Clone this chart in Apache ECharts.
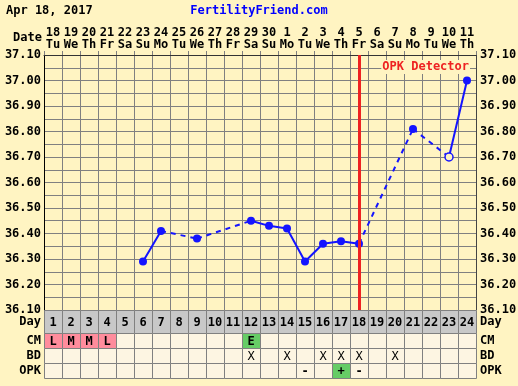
<!DOCTYPE html>
<html><head><meta charset="utf-8">
<script src="https://cdn.jsdelivr.net/npm/echarts@6/dist/echarts.min.js"></script>
<style>html,body{margin:0;padding:0;background:#FFF4C2}#c{width:518px;height:386px}</style>
</head><body><div id="c"></div>
<script>
// ---- data ----
const dates = ['18','19','20','21','22','23','24','25','26','27','28','29','30','1','2','3','4','5','6','7','8','9','10','11'];
const weekdays = ['Tu','We','Th','Fr','Sa','Su','Mo','Tu','We','Th','Fr','Sa','Su','Mo','Tu','We','Th','Fr','Sa','Su','Mo','Tu','We','Th'];
const cycleDays = ['1','2','3','4','5','6','7','8','9','10','11','12','13','14','15','16','17','18','19','20','21','22','23','24'];
const temps = [null,null,null,null,null,36.29,36.41,null,36.38,null,null,36.45,36.43,36.42,36.29,36.36,36.37,36.36,null,null,36.81,null,36.70,37.00];
const openCircleDays = ['23'];
const cmValues  = ['L','M','M','L','','','','','','','','E','','','','','','','','','','','',''];
const bdValues  = ['','','','','','','','','','','','X','','X','','X','X','X','','X','','','',''];
const opkValues = ['','','','','','','','','','','','','','','-','','+','-','','','','','',''];
const tableRows = ['CM','BD','OPK'];
const opkDetectorDay = '18';
const titleText = 'Apr 18, 2017';
const siteText = 'FertilityFriend.com';

// ---- styles ----
const BG = '#FFF4C2', CELL = '#FDF5E2', DAYCELL = '#C8C8C8', PINK = '#FF8C9C', GREEN = '#66CC66';
const BLUE = '#1414FF', RED = '#EE2222', GRID = '#808080';
const FONT = '"DejaVu Sans Mono", monospace';
const cellFill = {'L':PINK,'M':PINK,'H':PINK,'E':GREEN,'+':GREEN};

const L = 44, W = 432;
const chart = echarts.init(document.getElementById('c'), null, {renderer:'canvas'});

// line data
const lineData = temps.map((t, i) => {
  if (t === null) return null;
  if (openCircleDays.includes(cycleDays[i])) {
    return {value: t, itemStyle: {color: BG, borderColor: BLUE, borderWidth: 1.5}};
  }
  return t;
});
// dashed segments across gaps
const gapSeries = [];
let prev = -1;
temps.forEach((t, i) => {
  if (t === null) return;
  if (prev >= 0 && i - prev > 1) {
    const d = temps.map(() => null);
    d[prev] = temps[prev]; d[i] = t;
    gapSeries.push({
      type: 'line', xAxisIndex: 0, yAxisIndex: 0, data: d, connectNulls: true,
      symbol: 'none', z: 2, silent: true,
      lineStyle: {color: BLUE, width: 2, type: [5, 5]}
    });
  }
  prev = i;
});

const dayCells = cycleDays.map((d, i) => ({x: i, y: 0, text: d, fill: DAYCELL, bold: true}));
const lowCells = [];
[cmValues, bdValues, opkValues].forEach((arr, r) => {
  arr.forEach((v, i) => {
    lowCells.push({x: i, y: r, text: v, fill: (r !== 1 && cellFill[v]) || CELL, bold: r !== 1});
  });
});

function makeRender(cells) {
  return function (params, api) {
    const c = cells[params.dataIndex];
    const p = api.coord([api.value(0), api.value(1)]);
    const s = api.size([1, 1]);
    const x0 = Math.round(p[0] - s[0] / 2) + 0.5, y0 = Math.round(p[1] - s[1] / 2) + 0.5;
    return {type: 'group', children: [
      {type: 'rect', shape: {x: x0, y: y0, width: Math.round(s[0]), height: Math.round(s[1])},
       style: {fill: c.fill, stroke: GRID, lineWidth: 1}},
      {type: 'text', style: {text: c.text, x: p[0], y: p[1] + 1, align: 'center', verticalAlign: 'middle',
        font: (c.bold ? 'bold ' : '') + '12px ' + FONT, fill: '#000'}}
    ]};
  };
}

const catLabel = {fontFamily: FONT, fontWeight: 'bold', fontSize: 12, color: '#000'};

const option = {
  animation: false,
  backgroundColor: BG,
  title: [
    {text: titleText, left: 1, top: 0, textStyle: {fontFamily: FONT, fontWeight: 'bold', fontSize: 12, color: '#000'}},
    {text: siteText, left: 'center', top: 0, textStyle: {fontFamily: FONT, fontWeight: 'bold', fontSize: 12, color: '#0000FF'}}
  ],
  grid: [
    {left: L, width: W, top: 55, height: 255, outerBoundsMode: 'none', containLabel: false},
    {left: L, width: W, top: 310, height: 23, outerBoundsMode: 'none', containLabel: false},
    {left: L, width: W, top: 333, height: 45, outerBoundsMode: 'none', containLabel: false}
  ],
  xAxis: [
    {gridIndex: 0, type: 'category', position: 'top', boundaryGap: true,
     data: dates.map((d, i) => d + '\n' + weekdays[i]),
     axisLine: {show: true, lineStyle: {color: '#333', width: 1}},
     axisTick: {show: true, length: 4, interval: 0, lineStyle: {color: GRID}},
     axisLabel: {interval: 0, margin: 4, lineHeight: 12, ...catLabel},
     splitLine: {show: true, interval: 0, lineStyle: {color: GRID, width: 1}}},
    {gridIndex: 1, type: 'category', data: cycleDays, show: false},
    {gridIndex: 2, type: 'category', data: cycleDays, show: false}
  ],
  yAxis: [
    {gridIndex: 0, type: 'value', min: 36.1, max: 37.1, interval: 0.05, position: 'left',
     axisLine: {show: true, lineStyle: {color: '#000', width: 1}}, axisTick: {show: false},
     axisLabel: {margin: 3, ...catLabel, formatter: v => (Math.round(v * 100) % 10 === 0 ? v.toFixed(2) : '')},
     splitLine: {show: true, lineStyle: {color: GRID, width: 1}}},
    {gridIndex: 0, type: 'value', min: 36.1, max: 37.1, interval: 0.05, position: 'right',
     axisLine: {show: true, lineStyle: {color: '#444', width: 1}}, axisTick: {show: false},
     axisLabel: {margin: 4, ...catLabel, formatter: v => (Math.round(v * 100) % 10 === 0 ? v.toFixed(2) : '')},
     splitLine: {show: false}},
    {gridIndex: 1, type: 'category', data: ['Day'], position: 'left', axisLine: {show: false}, axisTick: {show: false},
     axisLabel: {margin: 3, interval: 0, ...catLabel}},
    {gridIndex: 1, type: 'category', data: ['Day'], position: 'right', axisLine: {show: false}, axisTick: {show: false},
     axisLabel: {margin: 4, interval: 0, ...catLabel}},
    {gridIndex: 2, type: 'category', data: tableRows, inverse: true, position: 'left', axisLine: {show: false}, axisTick: {show: false},
     axisLabel: {margin: 3, interval: 0, ...catLabel}},
    {gridIndex: 2, type: 'category', data: tableRows, inverse: true, position: 'right', axisLine: {show: false}, axisTick: {show: false},
     axisLabel: {margin: 4, interval: 0, ...catLabel}}
  ],
  graphic: [
    {type: 'text', x: 42, y: 38, z: 10, style: {text: 'Date', align: 'right', verticalAlign: 'middle',
      font: 'bold 12px ' + FONT, fill: '#000'}},
    {type: 'text', x: 470, y: 67, z: 10, style: {text: 'OPK Detector', align: 'right', verticalAlign: 'middle',
      font: 'bold 12px ' + FONT, fill: RED, backgroundColor: BG, padding: [1, 1]}}
  ],
  series: [
    ...gapSeries,
    {type: 'line', xAxisIndex: 0, yAxisIndex: 0, data: lineData, connectNulls: false, z: 3,
     symbol: 'circle', symbolSize: 8, showAllSymbol: true,
     itemStyle: {color: BLUE}, lineStyle: {color: BLUE, width: 2},
     markLine: {silent: true, symbol: ['none', 'none'], label: {show: false},
       lineStyle: {color: RED, width: 3, type: 'solid'},
       data: [{xAxis: cycleDays.indexOf(opkDetectorDay)}]}},
    {type: 'custom', xAxisIndex: 1, yAxisIndex: 2, renderItem: makeRender(dayCells),
     data: dayCells.map(c => [c.x, c.y]), silent: true},
    {type: 'custom', xAxisIndex: 2, yAxisIndex: 4, renderItem: makeRender(lowCells),
     data: lowCells.map(c => [c.x, c.y]), silent: true}
  ]
};
chart.setOption(option);
</script></body></html>
